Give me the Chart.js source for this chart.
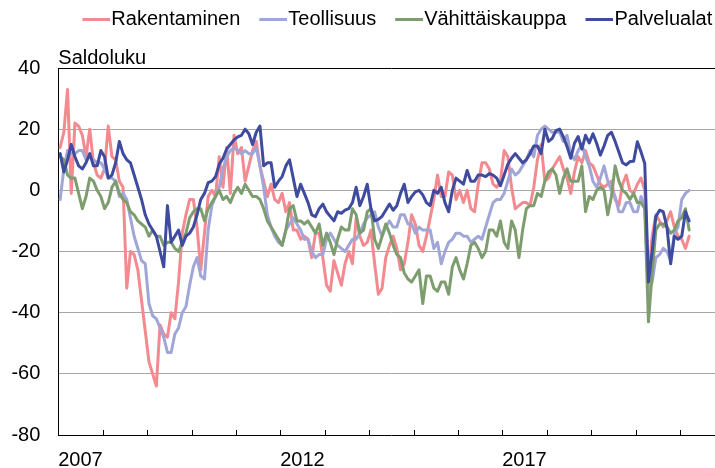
<!DOCTYPE html>
<html>
<head>
<meta charset="utf-8">
<script src="https://cdn.jsdelivr.net/npm/chart.js@4"></script>
<style>
  html, body { margin: 0; padding: 0; background: #fff; overflow: hidden; }
  #wrap { position: relative; width: 730px; height: 468px; }
</style>
</head>
<body>
<div id="wrap"><canvas id="chart"></canvas></div>
<script>
// monthly categories Jan 2007 - Dec 2021
const startYear = 2007;
const endYear = 2021;
const categories = [];
for (let y = startYear; y <= endYear; y++) {
  for (let m = 1; m <= 12; m++) categories.push(y + '/' + m);
}
const yearLabels = ['2007', '2012', '2017'];

const seriesNames = ['Rakentaminen', 'Teollisuus', 'Vähittäiskauppa', 'Palvelualat'];
const seriesColors = ['#F28A90', '#A0A6D8', '#7E9D6E', '#3F4B9E'];

// saldoluku, Jan 2007 - Mar 2021
const rakentaminen = [
  14, 19, 33, -1, 22, 21, 18, 11, 20, 9, 5, 4, 7, 21, 11, 10, 3, 1, -32, -20,
  -21, -26, -36, -46, -56, -60, -64, -44, -47, -48, -40, -42, -30, -14, -8, -3, -3, -12, -26, -14,
  -2, 0, -2, 11, 1, 14, -1, 18, 12, 14, 3, 8, 13, 16, 8, 3, -2, 2, -3, -4,
  -1, -7, -4, -13, -13, -16, -15, -16, -22, -14, -14, -22, -31, -33, -23, -27, -31, -24, -20, -24,
  -9, -15, -18, -17, -13, -24, -34, -32, -22, -18, -15, -19, -26, -24, -17, -8, -11, -18, -20, -15,
  -9, -3, 5, -2, -2, 6, 5, -3, 0, -4, 0, -6, -7, 2, 9, 9, 7, 2, 1, 3,
  13, 11, 1, -6, -5, -4, -4, -5, 1, 10, 15, 3, 4, 7, 9, 11, 7, 4, -1, 6,
  11, 9, 13, 9, 8, 5, 2, 1, 2, 3, -3, -5, 2, 5, 0, -1, 2, 4, 0, -29,
  -15, -8, -10, -12, -10, -7, -12, -15, -16, -19, -15
];
const teollisuus = [
  -3, 7, 13, 12, 12, 13, 13, 10, 11, 10, 9, 9, 7, 4, 4, 3, -2, -1, -3, -9,
  -15, -19, -23, -24, -37, -41, -42, -45, -48, -53, -53, -47, -45, -40, -38, -31, -25, -22, -28, -29,
  -13, -5, -2, 1, 7, 11, 13, 14, 13, 12, 13, 12, 12, 14, 8, 1, -8, -12, -15, -17,
  -18, -13, -11, -9, -11, -13, -16, -16, -20, -22, -21, -21, -16, -14, -16, -18, -19, -20, -18, -16,
  -16, -14, -11, -9, -8, -7, -12, -15, -12, -10, -12, -12, -8, -8, -11, -11, -14, -12, -13, -13,
  -13, -19, -17, -24, -20, -17, -16, -14, -14, -15, -15, -17, -16, -15, -16, -12, -8, -4, -3, -3,
  -1, 3, 7, 5, 6, 8, 10, 13, 11, 18, 20, 21, 20, 19, 19, 19, 16, 18, 12, 10,
  13, 15, 11, 8, 3, 1, 4, 8, 3, 0, -2, -7, -7, -4, -4, -7, -7, -2, -5, -33,
  -30, -22, -21, -19, -20, -23, -14, -12, -3, -1, 0
];
const vahittaiskauppa = [
  11, 10, 5, 4, 4, -1, -6, -2, 4, 3, 0, -2, -6, -4, 1, 3, -1, -3, -4, -7,
  -8, -10, -11, -12, -15, -13, -15, -15, -18, -17, -17, -19, -20, -17, -14, -9, -7, -6, -6, -10,
  -6, -4, -2, 0, -3, -2, -4, -1, 1, -1, 2, 0, -2, -2, -3, -6, -10, -12, -14, -16,
  -18, -13, -6, -5, -10, -10, -11, -10, -12, -14, -11, -18, -14, -17, -21, -16, -12, -13, -13, -6,
  -8, -14, -13, -7, -6, -16, -19, -15, -11, -14, -18, -21, -22, -27, -29, -30, -28, -26, -37, -28,
  -28, -32, -33, -30, -30, -34, -25, -22, -26, -29, -24, -18, -17, -19, -22, -20, -13, -13, -15, -10,
  -17, -19, -10, -13, -22, -13, -6, -5, -5, -1, -2, 3, 6, 7, 5, -1, 4, 7, 3, 3,
  3, 8, -7, -2, -3, 0, 1, 0, -8, -2, 8, 3, 0, -1, -3, -1, -4, -4, -6, -43,
  -27, -13, -11, -11, -12, -14, -13, -10, -9, -6, -13
];
const palvelualat = [
  12, 6, 10, 15, 11, 8, 7, 9, 12, 8, 8, 13, 11, 4, 5, 9, 16, 12, 10, 9,
  5, 1, -3, -8, -11, -13, -15, -20, -25, -5, -17, -15, -13, -18, -15, -14, -12, -8, -3, -1,
  2.5, 3, 4.5, 8.5, 10.5, 13.5, 15, 16.5, 17.5, 18, 20, 18.5, 15, 19, 21, 8, 9, 9, 1, 3,
  4.5, 8, 10, 4, -2, 2, -1, -4, -8, -8.6, -6, -4.5, -7, -8.5, -10, -7, -7.5, -6.5, -6, -4,
  1, -5, -2, 2, -6, -10, -9.5, -8.5, -6.5, -4.5, -6.5, -5, -1, 2, -4, -2, -0.5, 0, -1.5, -4,
  -5, 0, -1, 1, -4, -7, 0, 4, 3, 2, 6.5, 3, 3, 5, 5, 4.5, 5.5, 5, 4, 1.5,
  5, 8.5, 10.5, 12, 10.5, 9, 10, 12, 14.5, 14.5, 12, 20, 16, 17, 19.5, 20, 17.5, 14.3, 10.5, 15.4,
  17.6, 13.5, 18, 15.5, 18.5, 15.4, 11.5, 14.5, 18, 19, 16, 12.5, 9, 8.3, 9.4, 9.5, 15.9, 12.5, 8.8, -30,
  -20, -8.6, -6.5, -7, -12, -24, -15, -16, -15, -7, -10
];
const seriesValues = [rakentaminen, teollisuus, vahittaiskauppa, palvelualat];

const yMin = -80, yMax = 40, yStep = 20;
const FONT = "'Liberation Sans', Arial, sans-serif";

// legend marker: a short line sitting right next to the label text
function legendLine(color) {
  const c = document.createElement('canvas');
  c.width = 44;
  c.height = 3;
  const g = c.getContext('2d');
  g.fillStyle = color;
  g.fillRect(16, 0, 28, 3);
  return c;
}

// small year ticks pointing up from the x axis
const yearTicks = {
  id: 'yearTicks',
  afterDatasetsDraw(chart) {
    const { ctx, scales: { x } } = chart;
    const half = (x.right - x.left) / categories.length / 2;
    ctx.save();
    ctx.strokeStyle = '#000';
    ctx.lineWidth = 1;
    ctx.beginPath();
    for (let i = 12; i < categories.length; i += 12) {
      const px = Math.round(x.getPixelForValue(i) - half) + 0.5;
      ctx.moveTo(px, x.top);
      ctx.lineTo(px, x.top - 5);
    }
    ctx.stroke();
    ctx.restore();
  }
};

new Chart(document.getElementById('chart'), {
  type: 'line',
  data: {
    labels: categories,
    datasets: seriesNames.map((name, i) => ({
      label: name,
      data: seriesValues[i],
      borderColor: seriesColors[i],
      backgroundColor: seriesColors[i],
      borderWidth: 3,
      pointRadius: 0,
      pointStyle: legendLine(seriesColors[i]),
      tension: 0,
      borderJoinStyle: 'round',
      borderCapStyle: 'round',
      order: seriesNames.length - i,
    })),
  },
  options: {
    animation: false,
    responsive: true,
    maintainAspectRatio: false,
    devicePixelRatio: 1,
    layout: { padding: { top: -3, right: 5.7, left: 0, bottom: 0 } },
    plugins: {
      legend: {
        position: 'top',
        align: 'end',
        labels: {
          usePointStyle: true,
          pointStyleWidth: 26,
          boxHeight: 20,
          padding: 12,
          color: '#000',
          font: { family: FONT, size: 20 },
          sort: (a, b) => a.datasetIndex - b.datasetIndex,
        },
      },
      title: {
        display: true,
        text: 'Saldoluku',
        align: 'start',
        fullSize: false,
        weight: 500,
        color: '#000',
        font: { family: FONT, size: 20, weight: 'normal', lineHeight: 1 },
        padding: { top: 9, bottom: 0 },
      },
      tooltip: { enabled: false },
    },
    scales: {
      x: {
        type: 'category',
        offset: true,
        grid: {
          offset: true,
          drawTicks: false,
          lineWidth: 1,
          color: (c) => (c.index === 60 || c.index === 120) ? '#a6a6a6' : 'rgba(0,0,0,0)',
        },
        border: { color: '#000', width: 1 },
        ticks: {
          autoSkip: false,
          maxRotation: 0,
          minRotation: 0,
          align: 'start',
          labelOffset: -2,
          padding: 13,
          color: '#000',
          font: { family: FONT, size: 20 },
          callback: function (val) {
            if (val % 12 !== 0) return null;
            const yr = categories[val].split('/')[0];
            return yearLabels.includes(yr) ? yr : '';
          },
        },
        afterFit: (scale) => { scale.height = 33; },
      },
      y: {
        min: yMin,
        max: yMax,
        grid: {
          drawTicks: false,
          lineWidth: 1,
          color: (c) => c.tick.value === yMax ? '#000' : (c.tick.value === yMin ? 'rgba(0,0,0,0)' : '#a6a6a6'),
        },
        border: { color: '#000', width: 1 },
        ticks: {
          stepSize: yStep,
          padding: 18,
          color: '#000',
          font: { family: FONT, size: 20 },
        },
        afterFit: (scale) => { scale.width = 58.3; },
      },
    },
  },
  plugins: [yearTicks],
});
</script>
</body>
</html>
